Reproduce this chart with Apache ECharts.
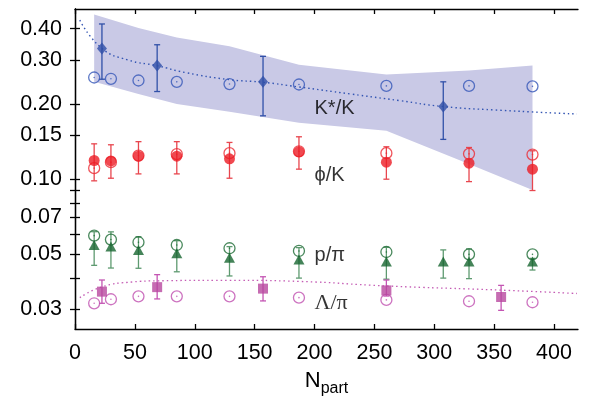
<!DOCTYPE html>
<html>
<head>
<meta charset="utf-8">
<script src="https://cdn.jsdelivr.net/npm/echarts@6/dist/echarts.min.js"></script>
<style>
  html, body { margin: 0; background: #fff; }
  #chart { width: 595px; height: 402px; }
</style>
</head>
<body>
<div id="chart"></div>
<script>
// K*/K data (filled diamonds) with errors
const kstarX = [22.5, 68.6, 157, 307.5];
const kstarY = [0.333, 0.285, 0.245, 0.195];
const kstarLo = [0.251, 0.224, 0.179, 0.144];
const kstarHi = [0.418, 0.345, 0.310, 0.245];

// open-circle points share these Npart values
const modelX = [16, 30, 53, 85, 129, 187, 260, 329, 382];
const kstarModel = [0.255, 0.252, 0.248, 0.245, 0.240, 0.239, 0.236, 0.236, 0.235];

// K*/K shaded band
const bandX = [16, 53, 85, 129, 187, 260, 329, 382];
const bandLo = [0.245, 0.219, 0.1995, 0.186, 0.168, 0.156, 0.1146, 0.0903];
const bandHi = [0.456, 0.403, 0.369, 0.340, 0.287, 0.262, 0.272, 0.285];

// K*/K dotted curve
const kstarLineX = [4, 22, 44, 69, 92, 129, 157, 186, 230, 271, 307.5, 350, 419];
const kstarLineY = [0.433, 0.335, 0.300, 0.284, 0.267, 0.250, 0.244, 0.234, 0.219, 0.206, 0.195, 0.189, 0.182];

// phi/K
const phiX = [16, 30, 53, 85, 129, 187, 260, 329, 382];
const phiY = [0.1185, 0.118, 0.1233, 0.1233, 0.1203, 0.1284, 0.1167, 0.1156, 0.1094];
const phiLo = [0.0982, 0.1006, 0.1047, 0.1047, 0.1006, 0.1094, 0.0997, 0.0975, 0.0898];
const phiHi = [0.1382, 0.137, 0.141, 0.141, 0.140, 0.1475, 0.1345, 0.1336, 0.1296];
const phiModel = [0.1104, 0.1167, 0.124, 0.1256, 0.1268, 0.129, 0.1268, 0.126, 0.1252];

// p/pi
const protonX = [16, 30, 53, 85, 129, 187, 260, 307.5, 329, 382];
const protonY = [0.0543, 0.0535, 0.0519, 0.0503, 0.0483, 0.0475, 0.0466, 0.0466, 0.0466, 0.0466];
const protonLo = [0.045, 0.0439, 0.0438, 0.0424, 0.0408, 0.040, 0.0396, 0.040, 0.0398, 0.0431];
const protonHi = [0.0614, 0.0613, 0.0586, 0.0565, 0.0535, 0.053, 0.0532, 0.0519, 0.0524, 0.048];
const protonModelX = [16, 30, 53, 85, 129, 187, 260, 329, 382];
const protonModel = [0.0592, 0.0571, 0.0557, 0.0543, 0.0527, 0.0514, 0.0509, 0.0498, 0.0498];

// Lambda/pi
const lambdaX = [22.5, 68.6, 157, 260, 355.8];
const lambdaY = [0.0353, 0.0368, 0.0363, 0.0357, 0.0336];
const lambdaLo = [0.0317, 0.033, 0.0324, 0.0339, 0.0297];
const lambdaHi = [0.0393, 0.0413, 0.0405, 0.0393, 0.0374];
const lambdaModel = [0.0317, 0.0329, 0.0338, 0.0338, 0.0338, 0.0334, 0.0327, 0.0323, 0.032];
const lambdaLineX = [4, 22.5, 48, 68.6, 128, 187, 260, 355.8, 419];
const lambdaLineY = [0.0334, 0.0369, 0.0386, 0.039, 0.0392, 0.0388, 0.0372, 0.0358, 0.0347];

const xTicks = [0, 50, 100, 150, 200, 250, 300, 350, 400];
const yLabels = [0.03, 0.05, 0.07, 0.1, 0.15, 0.2, 0.3, 0.4];
const yTicks = [0.03, 0.04, 0.05, 0.06, 0.07, 0.08, 0.09, 0.1, 0.15, 0.2, 0.3, 0.4];

const FONT = 'Liberation Sans';
const zip = (xs, ys) => xs.map((x, i) => [x, ys[i]]);
const zip3 = (xs, a, b) => xs.map((x, i) => [x, a[i], b[i]]);

function errorBars(xs, lo, hi, color, z) {
  return {
    type: 'custom',
    z: z,
    data: zip3(xs, lo, hi),
    encode: { x: 0, y: [1, 2] },
    renderItem: function (params, api) {
      const x = api.value(0);
      const a = api.coord([x, api.value(1)]);
      const b = api.coord([x, api.value(2)]);
      const style = { stroke: color, lineWidth: 1.3 };
      return {
        type: 'group',
        children: [
          { type: 'line', shape: { x1: a[0], y1: a[1], x2: b[0], y2: b[1] }, style: style },
          { type: 'line', shape: { x1: a[0] - 3, y1: a[1], x2: a[0] + 3, y2: a[1] }, style: style },
          { type: 'line', shape: { x1: b[0] - 3, y1: b[1], x2: b[0] + 3, y2: b[1] }, style: style }
        ]
      };
    }
  };
}

function openCircles(xs, ys, color, z) {
  return [
    {
      type: 'scatter', z: z, data: zip(xs, ys), symbol: 'circle', symbolSize: 11,
      itemStyle: { color: 'rgba(255,255,255,0)', borderColor: color, borderWidth: 1.3 }
    },
    {
      type: 'scatter', z: z, data: zip(xs, ys), symbol: 'circle', symbolSize: 1.6,
      itemStyle: { color: color }
    }
  ];
}

const chart = echarts.init(document.getElementById('chart'));

chart.setOption({
  animation: false,
  grid: { left: 75, right: 17, top: 9, bottom: 73 },
  xAxis: [
    {
      type: 'value', min: 0, max: 420, interval: 50,
      splitLine: { show: false },
      axisLine: { lineStyle: { color: '#000', width: 1.3 } },
      axisTick: { inside: true, length: 5, customValues: xTicks, lineStyle: { color: '#000', width: 1.3 } },
      axisLabel: { customValues: xTicks, margin: 13, color: '#000', fontSize: 21.5, fontFamily: FONT },
      name: '{n|N}{s|part}',
      nameLocation: 'middle',
      nameGap: 41,
      nameTextStyle: {
        rich: {
          n: { fontSize: 22, fontFamily: FONT, color: '#000', verticalAlign: 'top' },
          s: { fontSize: 16, fontFamily: FONT, color: '#000', verticalAlign: 'bottom', padding: [11, 0, 0, 0] }
        }
      }
    },
    {
      type: 'value', min: 0, max: 420, interval: 50, position: 'top',
      splitLine: { show: false },
      axisLine: { lineStyle: { color: '#000', width: 1.3 } },
      axisTick: { inside: true, length: 5, customValues: xTicks, lineStyle: { color: '#000', width: 1.3 } },
      axisLabel: { show: false }
    }
  ],
  yAxis: [
    {
      type: 'log', logBase: 10, min: 0.025, max: 0.48,
      splitLine: { show: false },
      axisLine: { show: true, lineStyle: { color: '#000', width: 1.3 } },
      axisTick: { show: true, inside: true, length: 5, customValues: yTicks, lineStyle: { color: '#000', width: 1.3 } },
      minorTick: { show: false },
      axisLabel: {
        customValues: yLabels, margin: 13, color: '#000', fontSize: 21.5, fontFamily: FONT,
        formatter: v => Number(v).toFixed(2)
      }
    },
    {
      type: 'log', logBase: 10, min: 0.025, max: 0.48, position: 'right',
      splitLine: { show: false },
      axisLine: { show: true, lineStyle: { color: '#000', width: 1.3 } },
      axisTick: { show: true, inside: true, length: 5, customValues: yTicks, lineStyle: { color: '#000', width: 1.3 } },
      axisLabel: { show: false }
    }
  ],
  series: [
    {
      // shaded K*/K band
      type: 'custom',
      z: 1,
      data: zip3(bandX, bandLo, bandHi),
      encode: { x: 0, y: [1, 2] },
      renderItem: function (params, api) {
        if (params.dataIndex !== 0) return null;
        const top = bandX.map((x, i) => api.coord([x, bandHi[i]]));
        const bottom = bandX.map((x, i) => api.coord([x, bandLo[i]])).reverse();
        return {
          type: 'polygon',
          shape: { points: top.concat(bottom) },
          style: { fill: '#c9c9e6' }
        };
      }
    },
    {
      type: 'line', z: 2, data: zip(kstarLineX, kstarLineY), smooth: true, showSymbol: false,
      lineStyle: { color: '#3355b3', width: 1.4, type: [1.5, 3] }
    },
    {
      type: 'line', z: 2, data: zip(lambdaLineX, lambdaLineY), smooth: true, showSymbol: false,
      lineStyle: { color: '#c45bb4', width: 1.3, type: [1.5, 3] }
    },
    errorBars(kstarX, kstarLo, kstarHi, '#3050a8', 3),
    errorBars(phiX, phiLo, phiHi, '#e8464e', 3),
    errorBars(protonX, protonLo, protonHi, '#5e9a70', 3),
    errorBars(lambdaX, lambdaLo, lambdaHi, '#c455b3', 3),
    ...openCircles(modelX, kstarModel, '#3556b8', 4),
    ...openCircles(phiX, phiModel, '#ec2a33', 4),
    ...openCircles(protonModelX, protonModel, '#1d6b35', 4),
    ...openCircles(modelX, lambdaModel, '#c050b0', 4),
    {
      type: 'scatter', z: 5, data: zip(kstarX, kstarY), symbol: 'diamond', symbolSize: [10, 12],
      itemStyle: { color: '#2f4fa8' }
    },
    {
      type: 'scatter', z: 5, data: zip(phiX, phiY), symbol: 'circle', symbolSize: 11,
      itemStyle: { color: '#ec1c24' }
    },
    {
      type: 'scatter', z: 5, data: zip(protonX, protonY), symbol: 'triangle', symbolSize: [11, 10],
      itemStyle: { color: '#17652f' }
    },
    {
      type: 'scatter', z: 5, data: zip(lambdaX, lambdaY), symbol: 'rect', symbolSize: 10,
      itemStyle: { color: '#b8479f' }
    },
    {
      // curve labels
      type: 'scatter', z: 6, symbolSize: 0,
      data: [
        { value: [200, 0.191], name: 'K*/K' },
        { value: [200, 0.103], name: 'ϕ/K' },
        { value: [200, 0.0492], name: 'p/π' },
        { value: [200, 0.0317], name: 'Λ/π', label: { fontFamily: 'Liberation Serif', fontSize: 22 } }
      ],
      label: {
        show: true, position: 'right', distance: 0, formatter: p => p.name,
        color: '#000', fontSize: 20, fontFamily: FONT
      }
    }
  ]
});
</script>
</body>
</html>
